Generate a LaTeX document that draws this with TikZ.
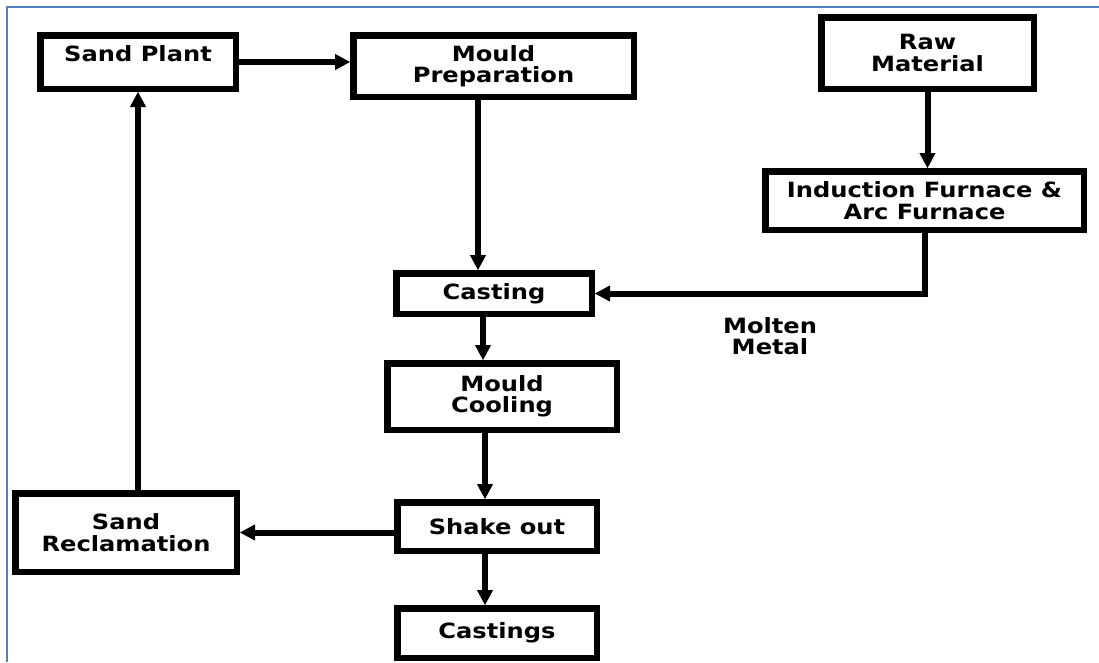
\documentclass[tikz,border=0pt]{standalone}
\usepackage{fontspec}
\setmainfont{DejaVu Sans}[FakeStretch=1.15]
\usetikzlibrary{arrows.meta}
\definecolor{frameblue}{HTML}{4F81BD}

\begin{document}
\begin{tikzpicture}[
    x=1pt, y=-1pt,
    procbox/.style={draw, line width=6.5pt, align=center, inner sep=0pt,
      font=\fontsize{21}{21.5}\selectfont\bfseries},
    flowlbl/.style={align=center, font=\fontsize{21}{21.5}\selectfont\bfseries},
    flow/.style={line width=6pt, -{Triangle[length=15pt,width=16pt,line width=1pt]}}
    ]

    \useasboundingbox (0,0) rectangle (1099,662);
    \draw[frameblue, line width=2.5pt] (7,662) -- (7,7) -- (1099,7);

    \node[procbox, minimum width=195.5pt, minimum height=53.5pt, text depth=17pt] (splant) at (138,62) {Sand Plant};
    \node[procbox, minimum width=280.5pt, minimum height=61.5pt] (mprep) at (493.5,66) {Mould\\Preparation};
    \node[procbox, minimum width=212.5pt, minimum height=71.5pt] (raw) at (927.5,53) {Raw\\Material};
    \node[procbox, minimum width=318.5pt, minimum height=58.5pt] (furnace) at (924.5,200.5) {Induction Furnace \&\\Arc Furnace};
    \node[procbox, minimum width=195.5pt, minimum height=40.5pt] (casting) at (494,293.5) {Casting};
    \node[procbox, minimum width=229.5pt, minimum height=66.5pt] (mcool) at (502,396.5) {Mould\\Cooling};
    \node[procbox, minimum width=199.5pt, minimum height=48.5pt] (shake) at (497,526.5) {Shake out};
    \node[procbox, minimum width=221.5pt, minimum height=78.5pt] (srecl) at (126,532.5) {Sand\\Reclamation};
    \node[procbox, minimum width=199.5pt, minimum height=49.5pt] (castings) at (497,633) {Castings};
    \node[flowlbl] (molten) at (770,336) {Molten\\Metal};

    \coordinate (mpout) at ([xshift=-15.5pt]mprep.south);
    \coordinate (caout) at ([xshift=-11pt]casting.south);
    \coordinate (mcout) at ([xshift=-17pt]mcool.south);
    \coordinate (shout) at ([xshift=-12pt]shake.south);

    \draw[flow] (splant.east) -- (splant.east -| mprep.west);
    \draw[flow] (mpout) -- (mpout |- casting.north);
    \draw[flow] (raw.south) -- (raw.south |- furnace.north);
    \draw[flow] (furnace.south) |- (casting.east);
    \draw[flow] (caout) -- (caout |- mcool.north);
    \draw[flow] (mcout) -- (mcout |- shake.north);
    \draw[flow] (shout) -- (shout |- castings.north);
    \draw[flow] (shake.west |- srecl.east) -- (srecl.east);
    \draw[flow] (srecl.north -| splant.south) -- (splant.south);

  \end{tikzpicture}
\end{document}
